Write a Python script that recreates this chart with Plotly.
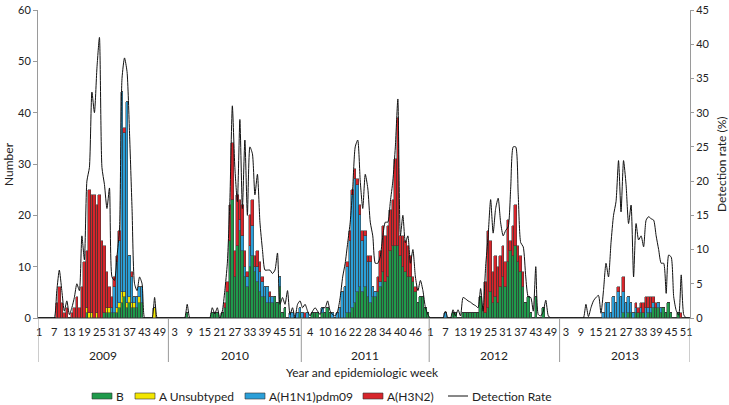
import plotly.graph_objects as go

years = [2009, 2010, 2011, 2012, 2013]
weeks_per_year = [52, 53, 51, 52, 52]
tick_weeks = [
    [1, 7, 13, 19, 25, 31, 37, 43, 49],
    [3, 9, 15, 21, 27, 33, 39, 45, 51],
    [4, 10, 16, 22, 28, 34, 40, 46],
    [1, 7, 13, 19, 25, 31, 37, 43, 49],
    [3, 9, 15, 21, 27, 33, 39, 45, 51],
]

# ---- B ----
b_2009 = [0,0,0,0,0,0,0,0,0,0, 0,0,0,0,0,0,0,0,0,1, 0,0,0,0,0,0,1,1,1,1,
          1,1,2,3,4,2,3,2,2,2, 3,3,0,0,0,0,0,0,0,0, 0,0]
b_2010 = [0,0,0,0,0,0,0,1,0,0, 0,0,0,0,0,0,0,1,1,1, 0,1,2,5,15,23,8,14,17,13,
          8,6,10,12,9,7,5,4,4,3, 3,3,4,3,6,1,2,0,0,0, 0,0,1]
b_2011 = [0,0,0,0,1,1,1,0,1,1, 2,1,0,0,0,0,0,0,1,1, 2,3,5,6,5,6,4,3,4,4,
          5,6,9,7,8,13,14,14,14,12, 10,9,8,8,7,5,3,4,4,2, 1]
b_2012 = [0,0,0,0,0,0,0,0,0,1, 1,0,0,1,1,1,1,1,1,1, 4,2,1,2,5,3,4,3,6,8,
          6,11,13,12,14,11,9,6,3,4, 1,0,4,0,0,2,0,0,0,0, 0,0]
b_2013 = [0,0,0,0,0,0,0,0,0,0, 0,0,0,0,0,0,0,0,0,0, 0,0,0,0,0,1,0,1,1,0,
          1,1,1,1,0,1,1,2,2,2, 1,2,1,3,1,0,0,1,0,0, 0,0]

# ---- A Unsubtyped ----
au_2009 = [0,0,0,0,0,0,0,0,0,0, 0,0,0,0,0,0,0,0,0,1, 1,1,0,1,0,0,0,1,1,0,
           0,1,1,2,1,1,1,1,1,0, 1,0,0,0,0,0,2,0,0,0, 0,0]
au_2010 = [0] * 53
au_2011 = [0] * 51
au_2012 = [0] * 52
au_2013 = [0] * 52

# ---- A(H1N1)pdm09 ----
h1_2009 = [0,0,0,0,0,0,0,0,0,0, 0,0,0,0,0,0,0,0,0,0, 0,0,0,0,0,0,0,0,0,1,
           5,9,12,39,31,39,8,5,1,2, 2,3,0,0,0,0,0,0,0,0, 0,0]
h1_2010 = [0,0,0,0,0,0,0,0,0,0, 0,0,0,0,0,0,0,0,0,0, 0,0,0,0,0,0,0,0,2,3,
           2,2,4,6,1,3,4,3,2,3, 1,1,0,0,2,0,0,0,1,1, 0,1,1]
h1_2011 = [1,0,1,0,0,0,0,0,1,0, 0,0,1,0,1,2,5,6,9,14, 22,24,21,14,10,10,7,8,2,1,
           0,1,0,0,0,0,0,0,0,0, 0,0,0,0,0,0,0,0,0,0, 0]
h1_2012 = [0,0,0,0,0,0,1,0,0,0, 0,0,0,0,0,0,0,0,0,0, 0,0,0,0,0,0,0,0,0,0,
           0,0,0,0,0,0,0,0,0,0, 0,0,0,0,0,0,0,0,0,0, 0,0]
h1_2013 = [0,0,0,0,0,0,0,0,0,0, 0,0,0,0,0,0,0,1,3,3, 1,4,3,5,4,4,3,3,2,1,
           1,0,1,0,2,1,1,1,0,1, 1,0,0,0,0,0,0,0,0,0, 0,0]

# ---- A(H3N2) ----
h3_2009 = [0,0,0,0,0,0,0,3,6,3, 1,2,0,1,2,4,2,6,11,11, 24,23,24,21,24,15,13,7,4,2,
           2,1,2,0,1,0,0,1,0,0, 0,0,0,0,0,0,0,0,0,0, 0,0]
h3_2010 = [0,0,0,0,0,0,0,0,0,0, 0,0,0,0,0,0,0,0,0,0, 0,0,1,2,7,11,5,10,4,6,
           3,1,6,5,2,3,2,1,0,0, 1,0,0,0,0,0,0,0,0,0, 0,0,0]
h3_2011 = [0,1,0,0,0,0,0,0,0,0, 0,0,0,0,0,0,0,0,1,2, 1,2,1,2,2,1,1,1,0,0,
           3,6,9,9,10,8,9,17,25,4, 6,6,6,4,1,1,0,0,0,0, 0]
h3_2012 = [0,0,0,0,0,0,0,0,0,0, 0,0,0,0,0,0,0,0,0,0, 0,0,6,15,10,6,8,7,6,6,
           5,8,2,6,8,3,3,3,0,0, 0,0,0,0,0,0,0,0,0,0, 0,0]
h3_2013 = [0,0,0,0,0,0,0,0,0,0, 0,0,0,0,0,0,0,0,0,0, 0,0,0,1,0,3,0,0,0,0,
           1,1,1,2,2,2,2,1,1,0, 0,0,0,0,0,0,0,0,1,0, 0,0]

# ---- Detection rate (%) ----
rate_2009 = [0,0,0,0,0,0,0,4,7,4, 1,2.5,0.5,1.5,3,5,4,12,8.5,20,
             22,33,30,36.5,41,22,19.5,16,19,6, 5.5,9,13,35,38,36,27,16,5,4,
             6,5,0,0,0,0,3,0,0,0, 0,0]
rate_2010 = [0,0,0,0,0,0,0,2,0,0, 0,0,0,0,0,0,0,1.5,0.6,1.5,
             0,1,4,8,17,31,22,17,29,16, 26,15,25,24,18,21,14,10,7,7,
             7,6.5,7,9.5,2,3,2,4,0.5,1.5, 0,2,2.5]
rate_2011 = [1.5,2,1,0.3,1,1.5,1,0.5,1.5,1.5, 2.5,1,0.5,0.3,1,3,6,8,11,14,
             19,25,26,20,16,21,19,14,12,8, 8,9,12,14,14,17,20,25,32,12,
             15,11,12,8,10,6,4,5.5,4,1.5, 0.5]
rate_2012 = [0,0,0,0,0,0,1,0,0,1.2, 0.3,1.2,0.3,3,2.8,2.5,2.3,2,1.8,1.5,
             4.3,1,7.5,12,17.3,12.4,16,17.5,13.9,12, 12.8,13.3,19,25,25,18,11,10.4,6,3.1,
             3,1,7.5,0.5,0.3,1,2.6,0.3,0,0, 0,0]
rate_2013 = [0,0,0,0,0,0,0,0,0,0, 2,0.2,1.5,2.5,3,3.3,0.7,4,8,6,
             11,15,17,23,15.5,23,19.5,13.8,16.5,6, 13.8,11.4,12,10.4,14.3,14.8,14.5,14.3,12,10,
             8,8,3.6,9.2,8.9,3.1,1.1,0.4,6.3,0.5, 0,0]

series_names = ["B", "A Unsubtyped", "A(H1N1)pdm09", "A(H3N2)"]
series_colors = ["#1f9a4b", "#f3e600", "#2b9fd8", "#d7252b"]
line_name = "Detection Rate"

b = b_2009 + b_2010 + b_2011 + b_2012 + b_2013
au = au_2009 + au_2010 + au_2011 + au_2012 + au_2013
h1 = h1_2009 + h1_2010 + h1_2011 + h1_2012 + h1_2013
h3 = h3_2009 + h3_2010 + h3_2011 + h3_2012 + h3_2013
rate = rate_2009 + rate_2010 + rate_2011 + rate_2012 + rate_2013

n = sum(weeks_per_year)
x = list(range(n))

offsets = []
acc = 0
for w in weeks_per_year:
    offsets.append(acc)
    acc += w

tickvals, ticktext = [], []
for off, tw in zip(offsets, tick_weeks):
    for w in tw:
        tickvals.append(off + w - 1)
        ticktext.append(str(w))

fig = go.Figure()
edge = dict(color="#333333", width=0.5)
for name, vals, col in zip(series_names, [b, au, h1, h3], series_colors):
    fig.add_trace(go.Bar(x=x, y=vals, name=name, marker=dict(color=col, line=edge)))

fig.add_trace(go.Scatter(x=x, y=rate, yaxis="y2", mode="lines", name=line_name,
                         line=dict(color="#111111", width=1, shape="spline", smoothing=0.6)))

W, H = 729, 405
ML, MR, MT, MB = 38, 39, 10, 87
plot_w = W - ML - MR
plot_h = H - MT - MB


def px_x(p):
    return (p - ML) / plot_w


def px_y(p):
    return (H - MB - p) / plot_h


axis_col = "#9a9a9a"
fig.update_layout(
    template="none",
    width=W, height=H,
    margin=dict(l=ML, r=MR, t=MT, b=MB),
    barmode="stack", bargap=0,
    plot_bgcolor="white", paper_bgcolor="white",
    font=dict(family="Lato, Open Sans, sans-serif", size=11, color="#222222"),
    showlegend=False,
    xaxis=dict(range=[-0.5, n - 0.5], tickvals=tickvals, ticktext=ticktext, tickangle=0,
               showline=True, linecolor=axis_col, linewidth=1, ticks="", showgrid=False,
               zeroline=False, tickfont=dict(size=11), ticklabelstandoff=4, automargin=False),
    yaxis=dict(range=[0, 60], dtick=10, ticks="outside", ticklen=4, tickcolor=axis_col,
               showline=True, linecolor=axis_col, showgrid=False, zeroline=False,
               tickfont=dict(size=11), automargin=False, ticklabeloverflow="allow"),
    yaxis2=dict(range=[0, 45], dtick=5, overlaying="y", side="right", ticks="outside",
                ticklen=3, tickcolor=axis_col, showline=True, linecolor=axis_col,
                showgrid=False, zeroline=False, tickfont=dict(size=11), automargin=False,
                ticklabeloverflow="allow"),
)

# multi-level x axis: year separators and year labels
sep_bottom = px_y(362)
bounds = [o - 0.5 for o in offsets] + [n - 0.5]
for bx in bounds:
    fig.add_shape(type="line", xref="x", yref="paper", x0=bx, x1=bx, y0=0, y1=sep_bottom,
                  line=dict(color=axis_col, width=1))
for yr, off, w in zip(years, offsets, weeks_per_year):
    fig.add_annotation(x=off + (w - 1) / 2, y=px_y(355), xref="x", yref="paper",
                       text=str(yr), showarrow=False, font=dict(size=12),
                       xanchor="center", yanchor="middle")

fig.add_annotation(x=px_x(362), y=px_y(372), xref="paper", yref="paper",
                   text="Year and epidemiologic week", showarrow=False, font=dict(size=12),
                   xanchor="center", yanchor="middle")
fig.add_annotation(x=px_x(8), y=0.5, xref="paper", yref="paper", text="Number",
                   textangle=-90, showarrow=False, font=dict(size=12),
                   xanchor="center", yanchor="middle")
fig.add_annotation(x=px_x(721), y=0.5, xref="paper", yref="paper",
                   text="Detection rate (%)", textangle=-90, showarrow=False,
                   font=dict(size=12), xanchor="center", yanchor="middle")

# legend drawn as swatches + labels below the axis title
legend_y = 396
legend_starts = [92, 135, 245, 363, 448]
for (name, col), x0 in zip(zip(series_names, series_colors), legend_starts[:4]):
    fig.add_shape(type="rect", xref="paper", yref="paper",
                  x0=px_x(x0), x1=px_x(x0 + 20), y0=px_y(legend_y + 3), y1=px_y(legend_y - 3),
                  fillcolor=col, line=dict(color="#333333", width=0.6))
    fig.add_annotation(x=px_x(x0 + 22), y=px_y(legend_y), xref="paper", yref="paper",
                       text=name, showarrow=False, font=dict(size=12),
                       xanchor="left", yanchor="middle")
x0 = legend_starts[4]
fig.add_shape(type="line", xref="paper", yref="paper", x0=px_x(x0), x1=px_x(x0 + 20),
              y0=px_y(legend_y), y1=px_y(legend_y), line=dict(color="#111111", width=1))
fig.add_annotation(x=px_x(x0 + 22), y=px_y(legend_y), xref="paper", yref="paper",
                   text=line_name, showarrow=False, font=dict(size=12),
                   xanchor="left", yanchor="middle")

fig.write_html("out.html", config={"displayModeBar": False},
               post_script="document.body.style.margin='0px';")
